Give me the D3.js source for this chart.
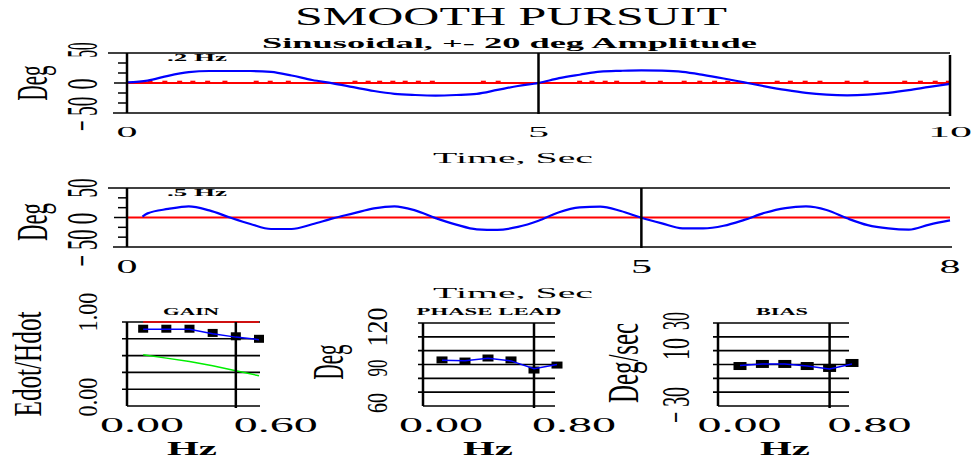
<!DOCTYPE html>
<html><head><meta charset="utf-8">
<script src="https://cdn.jsdelivr.net/npm/d3@7"></script>
<style>html,body{margin:0;padding:0;background:#fff;} svg{display:block;}</style>
</head><body><svg id="c" width="973" height="461"></svg>
<script>
// ---------------- DATA ----------------
const titleText = "SMOOTH PURSUIT";
const subtitleText = "Sinusoidal, +- 20 deg Amplitude";

// top trace: 0.2 Hz
const topFreqLabel = ".2 Hz";
const topTimes = [0,0.25,0.5,0.75,1,1.25,1.5,1.75,2,2.25,2.5,2.75,3,3.25,3.5,3.75,4,4.25,4.5,4.75,5,5.25,5.5,5.75,6,6.25,6.5,6.75,7,7.25,7.5,7.75,8,8.25,8.5,8.75,9,9.25,9.5,9.75,10];
const topBlue = [1,4,12,18,20,20,20,18.5,12.5,5,-0.5,-7,-13.3,-18,-20,-21,-20,-18,-11.5,-5,0,8,13.8,19,20.3,21,20.5,18.5,13.5,7.5,1,-5.5,-11.5,-16.5,-19.5,-20.6,-19.5,-16.5,-12,-6.5,-1.5];
const topRedBlipTimes = [0.28,0.46,0.64,0.80,0.98,1.19,1.57,1.74,1.96,2.77,2.93,3.07,3.23,3.38,3.54,3.71,4.33,4.51,5.5,5.65,5.81,5.95,6.27,6.48,6.77,6.96,7.14,7.30,7.9,8.06,8.24,8.42,8.75,8.98,9.45,9.64,9.82,9.98];
const topRedBlipValue = 2.5;
const topXTicks = [0,5,10];

// middle trace: 0.5 Hz
const midFreqLabel = ".5 Hz";
const midTimes = [0.15,0.2,0.4,0.6,0.8,1.0,1.2,1.4,1.6,1.8,2.0,2.2,2.4,2.6,2.8,3.0,3.2,3.4,3.6,3.8,4.0,4.2,4.4,4.6,4.8,5.0,5.2,5.4,5.6,5.8,6.0,6.2,6.4,6.6,6.8,7.0,7.2,7.4,7.6,7.8,8.0];
const midBlue = [1.5,7,14.5,19,12,0,-11,-19.5,-19.5,-11.5,-1.5,7,15.5,19,12,-1,-12,-20,-21,-16,-5.5,9,17,18.5,11,-0.5,-10,-18.4,-18.4,-14,-4,8,16,18.7,12.7,-1.4,-13,-18.5,-20.5,-12,-5];
const midXTicks = [0,5,8];

const traceYTicks = [-50,-33.33,-16.67,0,16.67,33.33,50];
const traceYLabels = ["\u2212 50","0","50"];
const traceYLabelValues = [-50,0,50];

// bottom panels
const freqs = [0.1,0.2,0.3,0.4,0.5,0.6];
const gainMeasured = [0.92,0.92,0.92,0.87,0.83,0.80];
const gainFit      = [0.915,0.915,0.915,0.86,0.82,0.79];
const gainUnity    = [1,1,1,1,1,1];
const gainGreen    = [0.61,0.57,0.53,0.48,0.42,0.36];
const gainGrid = [0,0.2,0.4,0.6,0.8,1.0];

const phaseMeasured = [93.3,92.5,94.7,93.3,86,89.6];
const phaseFit      = [93,92.7,94.6,92.6,87,90];
const phaseGrid = [60,70,80,90,100,110,120];

const biasMeasured = [-1.1,0.4,0.4,-1.1,-2.5,1.1];
const biasFit      = [-0.8,0.4,0.4,-1.1,-3.3,0.4];
const biasGrid = [-30,-20,-10,0,10,20,30];

// ---------------- DRAW ----------------
const svg = d3.select("#c");
const FONT = "'Liberation Serif','Times New Roman',serif";
const g = svg.append("g").attr("font-family", FONT).attr("fill", "#000");

function hText(str, x, y, size, len, anchor, weight) {
  const t = g.append("text").attr("x", x).attr("y", y)
    .attr("font-size", size).attr("text-anchor", anchor || "middle")
    .attr("font-weight", weight || "normal").text(str);
  if (len) t.attr("textLength", len).attr("lengthAdjust", "spacingAndGlyphs");
  return t;
}
function vText(str, cx, cy, size, len, across, k, weight) {
  const sx = across / (k * size);
  const t = g.append("text")
    .attr("transform", `translate(${cx},${cy}) scale(${sx},1) rotate(-90)`)
    .attr("text-anchor", "middle").attr("dominant-baseline", "central")
    .attr("font-size", size).attr("font-weight", weight || "normal").text(str);
  if (len) t.attr("textLength", len).attr("lengthAdjust", "spacingAndGlyphs");
  return t;
}
function line(x1, y1, x2, y2, w, col) {
  g.append("line").attr("x1", x1).attr("y1", y1).attr("x2", x2).attr("y2", y2)
    .attr("stroke", col || "#000").attr("stroke-width", w || 1.5);
}

// titles
hText(titleText, 295, 25, 26, 432, "start");
hText(subtitleText, 262, 48, 15, 495, "start", "bold");

// ---- trace plot helper
function tracePlot(o) {
  const x = o.x, y = o.y;
  const L = x.range()[0], R = x.range()[1];
  const T = y(50), B = y(-50);
  traceYTicks.forEach(v => {
    let len = 9;
    if (v === 0) len = 13;
    if (v === 50) len = 19;
    if (v === -50) len = 14;
    line(L - len, y(v), L, y(v), 1.5);
  });
  line(L, T, R, T, 1.5);
  line(L, B, R + (o.rightBorder ? 0 : 2), B, 1.5);
  line(x(x.domain()[0]), y(0), x(x.domain()[1]), y(0), 1.8, "#ff0000");
  if (o.blips) {
    o.blips.forEach(t => line(x(t) - 2.5, y(o.blipV), x(t) + 2.5, y(o.blipV), 1.6, "#ff0000"));
  }
  const ln = d3.line().x(d => x(d[0])).y(d => y(d[1])).curve(d3.curveMonotoneX);
  g.append("path").datum(o.times.map((t, i) => [t, o.vals[i]]))
    .attr("d", ln).attr("fill", "none").attr("stroke", "#0000ff").attr("stroke-width", 2.2);
  line(L, T, L, B, 2.5);
  line(x(5), T, x(5), B + 1, 2.5);
  if (o.rightBorder) line(R, T + 2, R, B + 3, 2.5);
  hText(o.freqLabel, L + 70, T + 8, 10, 60, "middle", "bold");
  o.xTicks.forEach(v => {
    const lab = String(v);
    hText(lab, x(v), o.xLabY, o.xLabSize, lab.length === 1 ? 21 : 44, "middle");
  });
  hText("Time, Sec", 513, o.xTitleY, 15, 160, "middle");
  traceYLabelValues.forEach((v, i) => {
    const c = o.yLabPos[i];
    vText(traceYLabels[i], 82, c[0], 15, c[1], 30, 0.68);
  });
  vText("Deg", 32, o.degY, 20, o.degLen, 39, 0.9);
}

const xTop = d3.scaleLinear().domain([0, 10]).range([127, 950]);
const yTop = d3.scaleLinear().domain([-50, 50]).range([113, 53]);
tracePlot({ x: xTop, y: yTop, times: topTimes, vals: topBlue, blips: topRedBlipTimes, blipV: topRedBlipValue,
  rightBorder: true, freqLabel: topFreqLabel, xTicks: topXTicks, xLabY: 137, xLabSize: 15, xTitleY: 163,
  yLabPos: [[yTop(-50) + 1, 34], [yTop(0) + 1, 11], [yTop(50) - 3, 15]], degY: 83, degLen: 35 });

const xMid = d3.scaleLinear().domain([0, 8]).range([127, 950]);
const yMid = d3.scaleLinear().domain([-50, 50]).range([247, 188]);
tracePlot({ x: xMid, y: yMid, times: midTimes, vals: midBlue,
  rightBorder: false, freqLabel: midFreqLabel, xTicks: midXTicks, xLabY: 273, xLabSize: 19, xTitleY: 298,
  yLabPos: [[yMid(-50) + 1, 37], [yMid(0) + 1, 12], [yMid(50), 19]], degY: 222, degLen: 38 });

// ---- bottom panel helper
function panel(o) {
  const x = o.x, y = o.y;
  const A = o.axisX, R = o.rightX;
  const T = y(o.grid[o.grid.length - 1]), B = y(o.grid[0]);
  o.grid.forEach((v, i) => {
    line(i === 0 ? A : A - 5, y(v), R, y(v), 1.6);
  });
  const ln = d3.line().x(d => x(d[0])).y(d => y(d[1]));
  (o.extra || []).forEach(e => {
    g.append("path").datum(freqs.map((f, i) => [f, e.vals[i]])).attr("d", ln)
      .attr("fill", "none").attr("stroke", e.color).attr("stroke-width", 1.5);
  });
  line(A, T, A, B, 2.5);
  line(x(0.5), T, x(0.5), B + 2, 2.5);
  g.selectAll(null).data(freqs.map((f, i) => [f, o.measured[i]])).enter().append("rect")
    .attr("x", d => x(d[0]) - o.sq[0] / 2).attr("y", d => y(d[1]) - o.sq[1] / 2)
    .attr("width", o.sq[0]).attr("height", o.sq[1]).attr("fill", "#000");
  g.append("path").datum(freqs.map((f, i) => [f, o.fit[i]])).attr("d", ln)
    .attr("fill", "none").attr("stroke", "#0000ff").attr("stroke-width", 1.5);
  hText(o.title, o.titleX, 315, 10, o.titleLen, "middle", "bold");
  hText("0.00", x(0) - 20, 432, 20, 84, "start");
  hText(o.xMaxLabel, x(0.5) - 2, 432, 20, 84, "start");
  hText("Hz", o.hzX, 455, 18, 50, "middle", "bold");
}

const xG = d3.scaleLinear().domain([0, 0.6]).range([120, 259]);
const yG = d3.scaleLinear().domain([0, 1]).range([406, 322]);
panel({ x: xG, y: yG, axisX: 127, rightX: 260, grid: gainGrid, measured: gainMeasured, fit: gainFit,
  extra: [{ vals: gainUnity, color: "#ff0000" }, { vals: gainGreen, color: "#00ee00" }],
  sq: [10, 8], title: "GAIN", titleX: 191, titleLen: 56, xMaxLabel: "0.60", hzX: 192 });
vText("1.00", 87, 312, 20, 39, 19, 0.68);
vText("0.00", 87, 397, 20, 39, 19, 0.68);
vText("Edot/Hdot", 28, 364, 24, 105, 30, 0.75);

const xP = d3.scaleLinear().domain([0, 0.6]).range([419, 557]);
const yP = d3.scaleLinear().domain([60, 120]).range([406, 323]);
panel({ x: xP, y: yP, axisX: 423, rightX: 555, grid: phaseGrid, measured: phaseMeasured, fit: phaseFit,
  sq: [11, 7], title: "PHASE LEAD", titleX: 489, titleLen: 145, xMaxLabel: "0.80", hzX: 488 });
vText("120", 377, 327, 20, 39, 20, 0.68);
vText("90", 377, 368, 20, 17, 20, 0.68);
vText("60", 377, 403, 20, 20, 20, 0.68);
vText("Deg", 328, 362, 20, 35, 40, 0.9);

const xB = d3.scaleLinear().domain([0, 0.6]).range([717.6, 852]);
const yB = d3.scaleLinear().domain([-30, 30]).range([406, 323]);
panel({ x: xB, y: yB, axisX: 718, rightX: 849, grid: biasGrid, measured: biasMeasured, fit: biasFit,
  sq: [13, 8], title: "BIAS", titleX: 782, titleLen: 52, xMaxLabel: "0.80", hzX: 785 });
vText("30", 676, 321, 20, 18, 27, 0.68);
vText("10", 676, 349, 20, 22, 27, 0.68);
vText("\u2212 30", 676, 405, 20, 36, 27, 0.68);
vText("Deg/sec", 623, 363, 20, 80, 40, 0.9);
</script></body></html>
